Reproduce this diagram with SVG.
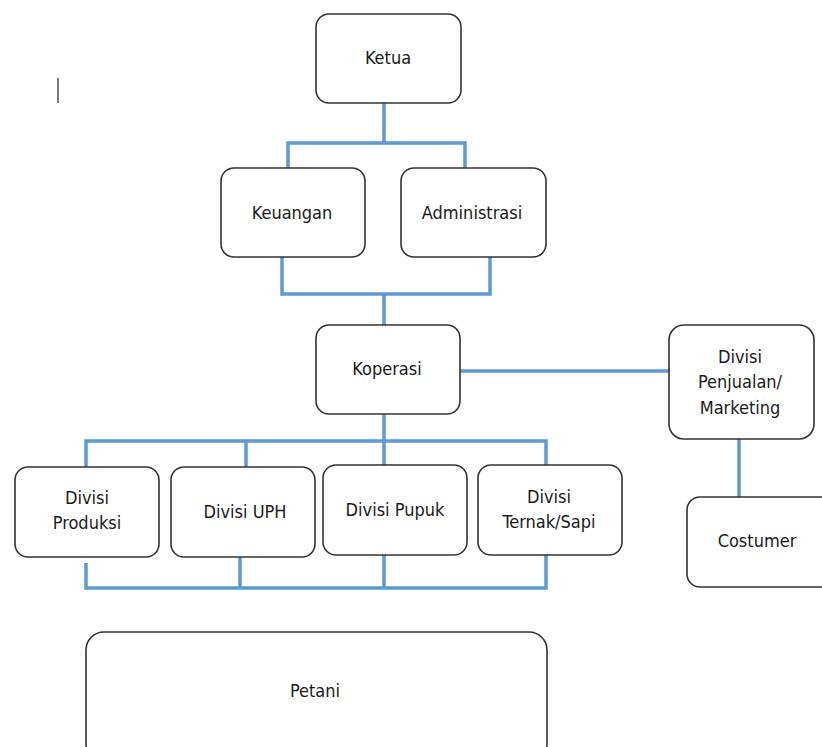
<svg xmlns="http://www.w3.org/2000/svg" width="822" height="747" viewBox="0 0 822 747">
<style>
.box{fill:#fff;stroke:#333;stroke-width:1.6}
.t{font-family:"DejaVu Sans Condensed","DejaVu Sans",sans-serif;font-stretch:condensed;font-size:18px;fill:#1a1a1a;text-anchor:middle;dominant-baseline:central}
.c{fill:none;stroke:#5b9bd5;stroke-width:3.5;stroke-linejoin:miter}
</style>
<rect width="822" height="747" fill="#fff"/>
<line x1="58" y1="78" x2="58" y2="103" stroke="#222" stroke-width="1.2"/>
<g id="connectors">
<path class="c" d="M384 103V143M288 168V143H465V168"/>
<path class="c" d="M282 257V294H490V257M384 294V325"/>
<path class="c" d="M460 371H669" stroke-width="4.5"/>
<path class="c" d="M384 414V441M86 467V441H546V465M246 441V467M384 441V465"/>
<path class="c" d="M86 563V588H546V555M240 557V588M384 555V588"/>
<path class="c" d="M739 439V497"/>
</g>
<g id="ketua"><rect class="box" x="316" y="14" width="145" height="89" rx="13"/><text class="t" x="388" y="57">Ketua</text></g>
<g id="keuangan"><rect class="box" x="221" y="168" width="144" height="89" rx="13"/><text class="t" x="292" y="212">Keuangan</text></g>
<g id="administrasi"><rect class="box" x="401" y="168" width="145" height="89" rx="13"/><text class="t" x="472" y="212">Administrasi</text></g>
<g id="koperasi"><rect class="box" x="316" y="325" width="144" height="89" rx="13"/><text class="t" x="387" y="368">Koperasi</text></g>
<g id="penjualan"><rect class="box" x="669" y="325" width="145" height="114" rx="15"/><text class="t" x="740" y="356">Divisi</text><text class="t" x="740" y="381">Penjualan/</text><text class="t" x="740" y="407">Marketing</text></g>
<g id="produksi"><rect class="box" x="15" y="467" width="144" height="90" rx="13"/><text class="t" x="87" y="497">Divisi</text><text class="t" x="87" y="522">Produksi</text></g>
<g id="uph"><rect class="box" x="171" y="467" width="144" height="90" rx="13"/><text class="t" x="245" y="511">Divisi UPH</text></g>
<g id="pupuk"><rect class="box" x="323" y="465" width="144" height="90" rx="13"/><text class="t" x="395" y="509">Divisi Pupuk</text></g>
<g id="ternak"><rect class="box" x="478" y="465" width="144" height="90" rx="13"/><text class="t" x="549" y="496">Divisi</text><text class="t" x="549" y="521">Ternak/Sapi</text></g>
<g id="costumer"><rect class="box" x="687" y="497" width="150" height="90" rx="13"/><text class="t" x="757" y="540">Costumer</text></g>
<g id="petani"><rect class="box" x="86" y="632" width="461" height="130" rx="18"/><text class="t" x="315" y="690">Petani</text></g>
</svg>
